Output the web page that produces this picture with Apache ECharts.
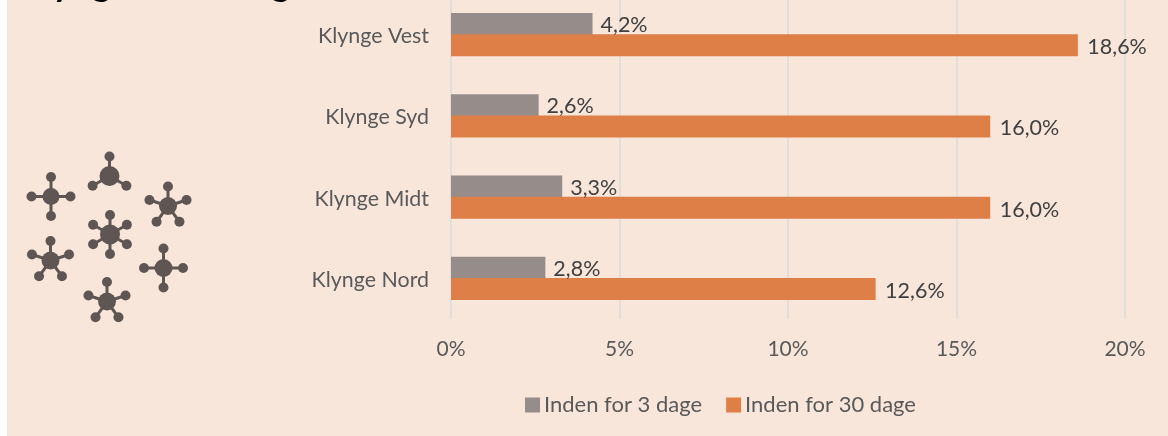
<!DOCTYPE html>
<html><head><meta charset="utf-8">
<style>html,body{margin:0;padding:0;background:#fff;overflow:hidden}#c{position:absolute;left:0;top:-10px;width:1168px;height:446px}</style>
<script src="https://cdn.jsdelivr.net/npm/echarts@6/dist/echarts.min.js"></script>
</head><body><div id="c"></div>
<script>
const categories = ['Klynge Vest','Klynge Syd','Klynge Midt','Klynge Nord'];
const within3 = [4.2,2.6,3.3,2.8];
const within30 = [18.6,16.0,16.0,12.6];
const seriesNames = ['Inden for 3 dage','Inden for 30 dage'];
const titleText = 'Klynge-inddeling';
const FONT = 'Lato';
const ICON = '#5F5653';
const OFF = 10; // the canvas starts above the window so the chart's top edge is cropped
// decorative molecule icon: [hubX, hubY, hubR, node angles in degrees (0 = up, clockwise)]
const clusters = [
  [51,196.5,8.5,[0,90,180,270]],
  [109.5,176,10,[0,120,240]],
  [168,206,9,[0,72,144,216,288]],
  [110,234.5,10,[0,60,120,180,240,300]],
  [50.5,260.5,9,[0,72,144,216,288]],
  [163.5,268,9,[0,90,180,270]],
  [107,301.5,9,[0,72,144,216,288]]
];
const icon = [];
clusters.forEach(([x,y,r,angles])=>{
  angles.forEach(a=>{
    const t=a*Math.PI/180, nx=x+19.5*Math.sin(t), ny=y+OFF-19.5*Math.cos(t);
    icon.push({type:'line',silent:true,shape:{x1:x,y1:y+OFF,x2:nx,y2:ny},style:{stroke:ICON,lineWidth:3}});
    icon.push({type:'circle',silent:true,shape:{cx:nx,cy:ny,r:5},style:{fill:ICON}});
  });
  icon.push({type:'circle',silent:true,shape:{cx:x,cy:y+OFF,r:r},style:{fill:ICON}});
});
const fmt = v => v.toFixed(1).replace('.',',')+'%';
const chart = echarts.init(document.getElementById('c'),null,{renderer:'canvas'});
chart.setOption({
  animation:false,
  backgroundColor:'#fff',
  textStyle:{fontFamily:FONT},
  graphic:[
    {type:'rect',silent:true,z:-10,shape:{x:7,y:0,width:1161,height:446},style:{fill:'#F8E6DB'}},
    {type:'text',silent:true,left:19,top:-24,style:{text:titleText,font:'bold 36px '+FONT,fill:'#000'}},
    ...icon
  ],
  grid:{left:451,width:674,top:4,height:325,containLabel:false},
  legend:{
    left:520,top:399,itemWidth:15,itemHeight:15,itemGap:24,icon:'rect',
    itemStyle:{borderWidth:0},
    data:seriesNames,
    textStyle:{fontFamily:FONT,fontSize:22,color:'#595959',padding:[0,0,0,-1]}
  },
  xAxis:{
    type:'value',min:0,max:20,interval:5,position:'bottom',
    axisLine:{show:false},axisTick:{show:false},
    axisLabel:{formatter:'{value}%',fontFamily:FONT,fontSize:21,color:'#595959',margin:20},
    splitLine:{show:true,lineStyle:{color:'#E2DEDA',width:2}}
  },
  yAxis:{
    type:'category',inverse:true,data:categories,
    axisLine:{show:false},axisTick:{show:false},
    axisLabel:{margin:22,formatter:v=>'{a|'+v+'}',
      rich:{a:{fontFamily:FONT,fontSize:21.4,color:'#595959',padding:[3,0,0,0]}}}
  },
  series:[
    {name:seriesNames[0],type:'bar',data:within3,barWidth:22,barGap:'-4%',itemStyle:{color:'#968C8A'},
     label:{show:true,position:'right',distance:8,offset:[0,1],formatter:p=>fmt(p.value),fontFamily:FONT,fontSize:21.5,color:'#404040'}},
    {name:seriesNames[1],type:'bar',data:within30,barWidth:22,itemStyle:{color:'#DD7F47'},
     label:{show:true,position:'right',distance:8,offset:[1.5,2],formatter:p=>fmt(p.value),fontFamily:FONT,fontSize:21.5,color:'#404040'}}
  ]
});
</script></body></html>
